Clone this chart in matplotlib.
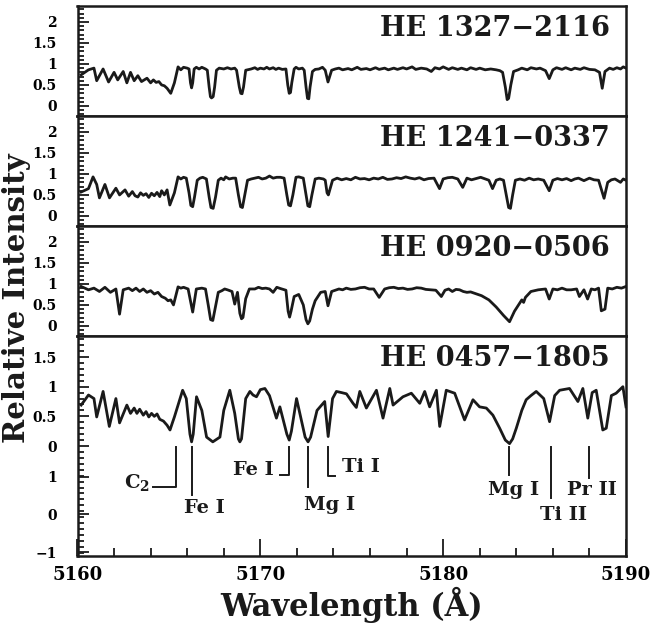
import matplotlib
matplotlib.use("Agg")
import matplotlib.pyplot as plt
from matplotlib.ticker import MultipleLocator

plt.rcParams['font.family'] = 'DejaVu Serif'
plt.rcParams['font.weight'] = 'bold'
plt.rcParams['mathtext.fontset'] = 'dejavuserif'

# spectra: (wavelength, relative intensity)
he1327 = [
    (5160.2, 0.74), (5160.6, 0.86), (5160.9, 0.90), (5161.05, 0.60), (5161.4, 0.88),
    (5161.7, 0.57), (5162.0, 0.80), (5162.2, 0.62), (5162.5, 0.82), (5162.7, 0.55),
    (5162.9, 0.80), (5163.1, 0.60), (5163.3, 0.72), (5163.5, 0.58), (5163.8, 0.66),
    (5164.0, 0.55), (5164.15, 0.62), (5164.3, 0.56), (5164.45, 0.58), (5164.6, 0.50),
    (5164.75, 0.48), (5164.9, 0.42), (5165.1, 0.30), (5165.3, 0.55), (5165.5, 0.93),
    (5165.65, 0.86), (5165.8, 0.92), (5166.0, 0.90), (5166.1, 0.88), (5166.18, 0.55),
    (5166.24, 0.43), (5166.3, 0.55), (5166.38, 0.88), (5166.5, 0.92), (5166.65, 0.88),
    (5166.8, 0.92), (5167.0, 0.88), (5167.1, 0.85), (5167.2, 0.45), (5167.27, 0.22),
    (5167.33, 0.19), (5167.42, 0.22), (5167.5, 0.45), (5167.6, 0.85), (5167.75, 0.90),
    (5168.0, 0.88), (5168.2, 0.91), (5168.4, 0.88), (5168.6, 0.90), (5168.7, 0.85),
    (5168.85, 0.45), (5168.93, 0.30), (5169.0, 0.29), (5169.08, 0.45), (5169.2, 0.85),
    (5169.5, 0.88), (5169.7, 0.91), (5169.85, 0.87), (5170.0, 0.90), (5170.2, 0.88),
    (5170.35, 0.92), (5170.5, 0.88), (5170.7, 0.91), (5170.85, 0.87), (5171.0, 0.90),
    (5171.2, 0.87), (5171.4, 0.88), (5171.5, 0.50), (5171.58, 0.30), (5171.65, 0.32),
    (5171.72, 0.55), (5171.85, 0.88), (5171.95, 0.92), (5172.1, 0.88), (5172.3, 0.90),
    (5172.4, 0.85), (5172.5, 0.45), (5172.58, 0.18), (5172.65, 0.17), (5172.72, 0.45),
    (5172.85, 0.82), (5173.0, 0.87), (5173.2, 0.88), (5173.4, 0.92), (5173.55, 0.85),
    (5173.7, 0.57), (5173.9, 0.85), (5174.1, 0.88), (5174.3, 0.90), (5174.5, 0.86),
    (5174.8, 0.89), (5175.0, 0.86), (5175.3, 0.92), (5175.5, 0.87), (5175.8, 0.89),
    (5176.0, 0.86), (5176.3, 0.91), (5176.5, 0.87), (5176.8, 0.90), (5177.0, 0.86),
    (5177.3, 0.90), (5177.5, 0.87), (5177.8, 0.91), (5178.0, 0.88), (5178.3, 0.93),
    (5178.5, 0.87), (5178.8, 0.90), (5179.1, 0.88), (5179.35, 0.82), (5179.55, 0.91),
    (5179.8, 0.88), (5180.0, 0.93), (5180.3, 0.87), (5180.5, 0.91), (5180.8, 0.87),
    (5181.0, 0.90), (5181.3, 0.86), (5181.5, 0.91), (5181.8, 0.87), (5182.0, 0.90),
    (5182.3, 0.86), (5182.6, 0.88), (5182.9, 0.86), (5183.1, 0.84), (5183.25, 0.80),
    (5183.4, 0.45), (5183.5, 0.15), (5183.58, 0.18), (5183.7, 0.50), (5183.85, 0.82),
    (5184.1, 0.86), (5184.3, 0.90), (5184.6, 0.86), (5184.8, 0.91), (5185.1, 0.88),
    (5185.3, 0.90), (5185.6, 0.84), (5185.8, 0.65), (5186.0, 0.86), (5186.2, 0.91),
    (5186.5, 0.87), (5186.7, 0.91), (5187.0, 0.86), (5187.2, 0.90), (5187.5, 0.87),
    (5187.7, 0.91), (5188.0, 0.87), (5188.3, 0.86), (5188.55, 0.80), (5188.7, 0.42),
    (5188.85, 0.82), (5189.1, 0.90), (5189.3, 0.87), (5189.5, 0.91), (5189.7, 0.88),
    (5189.85, 0.93), (5190.0, 0.90),
]

he1241 = [
    (5160.2, 0.57), (5160.6, 0.65), (5160.85, 0.93), (5161.05, 0.75), (5161.2, 0.43),
    (5161.5, 0.75), (5161.75, 0.43), (5162.1, 0.66), (5162.3, 0.50), (5162.6, 0.62),
    (5162.8, 0.47), (5163.0, 0.58), (5163.15, 0.48), (5163.3, 0.45), (5163.45, 0.55),
    (5163.6, 0.49), (5163.75, 0.53), (5163.9, 0.44), (5164.05, 0.54), (5164.2, 0.48),
    (5164.35, 0.56), (5164.5, 0.46), (5164.6, 0.60), (5164.75, 0.50), (5164.9, 0.62),
    (5165.05, 0.26), (5165.3, 0.55), (5165.5, 0.93), (5165.65, 0.88), (5165.8, 0.92),
    (5165.95, 0.90), (5166.1, 0.55), (5166.2, 0.25), (5166.3, 0.22), (5166.4, 0.45),
    (5166.55, 0.85), (5166.7, 0.90), (5166.85, 0.92), (5167.05, 0.88), (5167.2, 0.45),
    (5167.3, 0.20), (5167.42, 0.18), (5167.55, 0.45), (5167.7, 0.85), (5167.85, 0.90),
    (5168.0, 0.86), (5168.1, 0.93), (5168.3, 0.88), (5168.5, 0.90), (5168.65, 0.90),
    (5168.8, 0.50), (5168.92, 0.22), (5169.02, 0.20), (5169.15, 0.50), (5169.3, 0.85),
    (5169.5, 0.88), (5169.7, 0.90), (5169.9, 0.92), (5170.1, 0.88), (5170.3, 0.90),
    (5170.5, 0.95), (5170.7, 0.90), (5170.9, 0.92), (5171.1, 0.92), (5171.3, 0.90),
    (5171.45, 0.50), (5171.55, 0.26), (5171.65, 0.24), (5171.78, 0.50), (5171.95, 0.92),
    (5172.1, 0.93), (5172.35, 0.90), (5172.5, 0.50), (5172.6, 0.24), (5172.7, 0.22),
    (5172.82, 0.50), (5173.0, 0.88), (5173.2, 0.90), (5173.45, 0.88), (5173.55, 0.85),
    (5173.65, 0.55), (5173.72, 0.50), (5173.82, 0.65), (5173.95, 0.85), (5174.2, 0.90),
    (5174.45, 0.86), (5174.7, 0.89), (5174.95, 0.86), (5175.2, 0.92), (5175.45, 0.88),
    (5175.7, 0.89), (5175.95, 0.86), (5176.2, 0.90), (5176.45, 0.88), (5176.7, 0.92),
    (5176.95, 0.87), (5177.2, 0.88), (5177.45, 0.91), (5177.7, 0.89), (5177.95, 0.93),
    (5178.2, 0.90), (5178.45, 0.88), (5178.7, 0.91), (5178.95, 0.86), (5179.2, 0.89),
    (5179.5, 0.90), (5179.8, 0.65), (5180.0, 0.88), (5180.25, 0.91), (5180.5, 0.92),
    (5180.8, 0.88), (5181.07, 0.68), (5181.3, 0.90), (5181.55, 0.86), (5181.8, 0.89),
    (5182.05, 0.92), (5182.3, 0.88), (5182.5, 0.85), (5182.7, 0.65), (5182.9, 0.85),
    (5183.1, 0.88), (5183.3, 0.85), (5183.45, 0.50), (5183.58, 0.20), (5183.68, 0.18),
    (5183.8, 0.50), (5183.95, 0.85), (5184.2, 0.88), (5184.45, 0.85), (5184.7, 0.90),
    (5184.95, 0.86), (5185.2, 0.88), (5185.5, 0.85), (5185.8, 0.60), (5186.0, 0.85),
    (5186.25, 0.89), (5186.5, 0.86), (5186.75, 0.89), (5187.0, 0.84), (5187.2, 0.88),
    (5187.4, 0.90), (5187.7, 0.84), (5188.0, 0.90), (5188.25, 0.86), (5188.5, 0.85),
    (5188.8, 0.42), (5189.0, 0.80), (5189.2, 0.86), (5189.4, 0.88), (5189.7, 0.80),
    (5189.85, 0.88), (5190.0, 0.85),
]

he0920 = [
    (5160.2, 0.94), (5160.6, 0.86), (5160.9, 0.90), (5161.2, 0.82), (5161.5, 0.92),
    (5161.8, 0.80), (5162.1, 0.88), (5162.3, 0.28), (5162.5, 0.86), (5162.8, 0.90),
    (5163.0, 0.84), (5163.2, 0.90), (5163.4, 0.82), (5163.6, 0.88), (5163.8, 0.80),
    (5164.0, 0.84), (5164.2, 0.76), (5164.4, 0.80), (5164.6, 0.70), (5164.8, 0.66),
    (5164.95, 0.60), (5165.1, 0.62), (5165.25, 0.50), (5165.5, 0.93), (5165.65, 0.90),
    (5165.8, 0.92), (5166.05, 0.88), (5166.18, 0.60), (5166.3, 0.33), (5166.4, 0.60),
    (5166.5, 0.88), (5166.8, 0.90), (5167.0, 0.88), (5167.15, 0.50), (5167.28, 0.15),
    (5167.4, 0.13), (5167.52, 0.40), (5167.7, 0.80), (5167.9, 0.84), (5168.05, 0.88),
    (5168.2, 0.86), (5168.45, 0.82), (5168.6, 0.52), (5168.75, 0.80), (5168.88, 0.30),
    (5168.97, 0.17), (5169.05, 0.20), (5169.2, 0.65), (5169.4, 0.88), (5169.7, 0.88),
    (5169.9, 0.92), (5170.1, 0.89), (5170.3, 0.90), (5170.5, 0.88), (5170.7, 0.80),
    (5170.9, 0.92), (5171.1, 0.89), (5171.4, 0.85), (5171.52, 0.35), (5171.6, 0.21),
    (5171.68, 0.35), (5171.85, 0.70), (5172.1, 0.75), (5172.35, 0.50), (5172.5, 0.15),
    (5172.6, 0.05), (5172.7, 0.12), (5172.85, 0.40), (5173.0, 0.60), (5173.3, 0.80),
    (5173.55, 0.82), (5173.7, 0.48), (5173.9, 0.82), (5174.1, 0.85), (5174.3, 0.88),
    (5174.5, 0.86), (5174.7, 0.90), (5174.95, 0.87), (5175.2, 0.88), (5175.45, 0.91),
    (5175.7, 0.92), (5175.95, 0.88), (5176.2, 0.88), (5176.5, 0.68), (5176.8, 0.88),
    (5177.05, 0.91), (5177.3, 0.92), (5177.55, 0.89), (5177.8, 0.90), (5178.05, 0.87),
    (5178.3, 0.88), (5178.55, 0.91), (5178.8, 0.90), (5179.05, 0.87), (5179.3, 0.86),
    (5179.6, 0.85), (5179.9, 0.70), (5180.1, 0.85), (5180.3, 0.88), (5180.5, 0.82),
    (5180.7, 0.87), (5180.9, 0.86), (5181.1, 0.82), (5181.3, 0.80), (5181.5, 0.81),
    (5181.7, 0.78), (5182.1, 0.72), (5182.5, 0.62), (5182.9, 0.45), (5183.3, 0.25),
    (5183.63, 0.10), (5183.9, 0.35), (5184.2, 0.55), (5184.3, 0.62), (5184.4, 0.56),
    (5184.5, 0.68), (5184.8, 0.82), (5185.0, 0.84), (5185.2, 0.86), (5185.6, 0.88),
    (5185.8, 0.64), (5186.0, 0.88), (5186.25, 0.86), (5186.5, 0.90), (5186.75, 0.86),
    (5187.0, 0.86), (5187.3, 0.88), (5187.45, 0.70), (5187.7, 0.86), (5187.9, 0.64),
    (5188.1, 0.88), (5188.3, 0.86), (5188.5, 0.90), (5188.65, 0.36), (5188.85, 0.40),
    (5189.0, 0.90), (5189.25, 0.88), (5189.5, 0.92), (5189.75, 0.90), (5190.0, 0.94),
]

he0457 = [
    (5160.2, 0.69), (5160.6, 0.86), (5160.9, 0.80), (5161.05, 0.49), (5161.4, 0.92),
    (5161.74, 0.33), (5162.1, 0.80), (5162.3, 0.39), (5162.7, 0.69), (5162.9, 0.55),
    (5163.1, 0.64), (5163.25, 0.55), (5163.4, 0.62), (5163.6, 0.52), (5163.75, 0.58),
    (5163.9, 0.49), (5164.05, 0.55), (5164.2, 0.50), (5164.35, 0.54), (5164.5, 0.45),
    (5164.7, 0.42), (5164.9, 0.35), (5165.06, 0.27), (5165.2, 0.40), (5165.3, 0.49),
    (5165.75, 0.94), (5165.95, 0.80), (5166.15, 0.20), (5166.24, 0.07), (5166.33, 0.20),
    (5166.51, 0.83), (5166.8, 0.60), (5167.06, 0.15), (5167.4, 0.07), (5167.79, 0.15),
    (5168.0, 0.60), (5168.33, 0.94), (5168.6, 0.55), (5168.8, 0.12), (5168.88, 0.07),
    (5168.97, 0.12), (5169.2, 0.80), (5169.43, 0.92), (5169.6, 0.86), (5169.79, 0.83),
    (5170.0, 0.95), (5170.25, 0.97), (5170.5, 0.85), (5170.88, 0.47), (5171.07, 0.66),
    (5171.45, 0.20), (5171.58, 0.10), (5171.7, 0.25), (5171.98, 0.80), (5172.45, 0.15),
    (5172.61, 0.07), (5172.75, 0.15), (5173.1, 0.60), (5173.52, 0.75), (5173.71, 0.16),
    (5173.95, 0.80), (5174.16, 0.92), (5174.45, 0.90), (5174.71, 0.88), (5175.07, 0.72),
    (5175.25, 0.65), (5175.44, 0.92), (5175.80, 0.64), (5176.35, 0.94), (5176.71, 0.47),
    (5177.08, 0.97), (5177.26, 0.69), (5177.80, 0.83), (5178.26, 0.89), (5178.72, 0.72),
    (5178.99, 0.92), (5179.26, 0.66), (5179.63, 0.94), (5179.81, 0.33), (5180.17, 0.94),
    (5180.63, 0.89), (5181.17, 0.44), (5181.63, 0.78), (5181.99, 0.66), (5182.36, 0.64),
    (5182.72, 0.52), (5183.09, 0.30), (5183.4, 0.10), (5183.63, 0.04), (5183.8, 0.12),
    (5184.0, 0.30), (5184.3, 0.60), (5184.54, 0.78), (5184.8, 0.85), (5185.09, 0.92),
    (5185.5, 0.80), (5185.82, 0.41), (5186.1, 0.85), (5186.37, 0.94), (5186.91, 0.97),
    (5187.37, 0.75), (5187.64, 0.97), (5187.91, 0.47), (5188.15, 0.90), (5188.37, 0.94),
    (5188.73, 0.27), (5188.92, 0.30), (5189.2, 0.85), (5189.46, 0.89), (5189.83, 1.00),
    (5190.0, 0.66),
]

star_names = ["HE 1327\u22122116", "HE 1241\u22120337", "HE 0920\u22120506", "HE 0457\u22121805"]
spectra = [he1327, he1241, he0920, he0457]

# line identifications in the bottom panel
line_wl = [5165.38, 5166.26, 5171.56, 5172.60, 5173.69, 5183.58, 5185.90, 5188.00]
line_names = [r"$\mathbf{C_2}$", "Fe I", "Fe I", "Mg I", "Ti I", "Mg I", "Ti II", "Pr II"]

top_ticks = [0, 0.5, 1, 1.5, 2]
top_ticklabels = ["0", "0.5", "1", "1.5", "2"]
bot_ticks = [-1.79, -1.15, -0.52, 0, 0.5, 1, 1.5]
bot_ticklabels = ["\u22121", "0", "1", "0", "0.5", "1", "1.5"]

W, H = 652, 626
fig = plt.figure(figsize=(W / 100, H / 100), dpi=100)

left = 77.5 / W
width = (626 - 77.5) / W
edges = [6, 116, 226, 336, 556]
ink = '#1a1a1a'

axes = []
for i in range(4):
    top, bot = edges[i], edges[i + 1]
    ax = fig.add_axes([left, 1 - bot / H, width, (bot - top) / H])
    axes.append(ax)

for i, ax in enumerate(axes):
    wl = [p[0] for p in spectra[i]]
    fl = [p[1] for p in spectra[i]]
    ax.plot(wl, fl, color=ink, lw=2.0, solid_joinstyle='round')
    ax.set_xlim(5160, 5190)
    for s in ax.spines.values():
        s.set_linewidth(1.8)
        s.set_color(ink)
    ax.tick_params(axis='y', which='both', direction='in', left=True, right=False,
                   labelsize=10, width=1.3, color=ink, pad=15)
    ax.tick_params(axis='y', which='major', length=8)
    ax.tick_params(axis='y', which='minor', length=4)
    ax.yaxis.set_minor_locator(MultipleLocator(0.1))
    ax.text(0.97, 0.92 if i < 3 else 0.96, star_names[i], transform=ax.transAxes,
            ha='right', va='top', fontsize=19.5, fontweight='bold', color=ink)
    if i < 3:
        ax.set_ylim(-0.24, 2.38)
        ax.set_yticks(top_ticks)
        ax.set_yticklabels(top_ticklabels)
        ax.tick_params(axis='x', which='both', bottom=False, top=False, labelbottom=False)
    else:
        ax.set_ylim(-1.855, 1.855)
        ax.set_yticks(bot_ticks)
        ax.set_yticklabels(bot_ticklabels)
        ax.xaxis.set_major_locator(MultipleLocator(10))
        ax.xaxis.set_minor_locator(MultipleLocator(2))
        ax.tick_params(axis='x', which='both', direction='in', top=False,
                       labelsize=13, width=1.3, color=ink, pad=7)
        ax.tick_params(axis='x', which='major', length=12)
        ax.tick_params(axis='x', which='minor', length=6)
        ax.set_xlabel("Wavelength (\u00c5)", fontsize=22, fontweight='bold', labelpad=2,
                      color=ink)

ax = axes[3]
kw = dict(color=ink, lw=1.4)
tk = dict(fontsize=14, fontweight='bold', color=ink, va='center')
y0 = -0.02
# C2 bandhead bracket
ax.plot([line_wl[0], line_wl[0], line_wl[0] - 1.25], [y0, -0.69, -0.69], **kw)
ax.text(line_wl[0] - 1.4, -0.62, line_names[0], ha='right', **tk)
# Fe I 5166
ax.plot([line_wl[1], line_wl[1]], [y0, -0.83], **kw)
ax.text(line_wl[1] - 0.45, -1.05, line_names[1], ha='left', **tk)
# Fe I 5171
ax.plot([line_wl[2], line_wl[2], line_wl[2] - 0.5], [y0, -0.49, -0.49], **kw)
ax.text(line_wl[2] - 0.85, -0.40, line_names[2], ha='right', **tk)
# Mg I 5172
ax.plot([line_wl[3], line_wl[3]], [y0, -0.69], **kw)
ax.text(line_wl[3] - 0.2, -1.0, line_names[3], ha='left', **tk)
# Ti I 5173
ax.plot([line_wl[4], line_wl[4], line_wl[4] + 0.4], [y0, -0.51, -0.51], **kw)
ax.text(line_wl[4] + 0.8, -0.35, line_names[4], ha='left', **tk)
# Mg I 5183
ax.plot([line_wl[5], line_wl[5]], [y0, -0.49], **kw)
ax.text(line_wl[5] + 0.25, -0.74, line_names[5], ha='center', **tk)
# Ti II 5185
ax.plot([line_wl[6], line_wl[6]], [y0, -0.88], **kw)
ax.text(line_wl[6] + 0.7, -1.16, line_names[6], ha='center', **tk)
# Pr II 5188
ax.plot([line_wl[7], line_wl[7]], [y0, -0.54], **kw)
ax.text(line_wl[7] + 0.15, -0.74, line_names[7], ha='center', **tk)

fig.text(17 / W, (H - 298) / H, "Relative Intensity", rotation=90, ha='center', va='center',
         fontsize=21, fontweight='bold', color=ink)

fig.savefig("out.png", dpi=100)
